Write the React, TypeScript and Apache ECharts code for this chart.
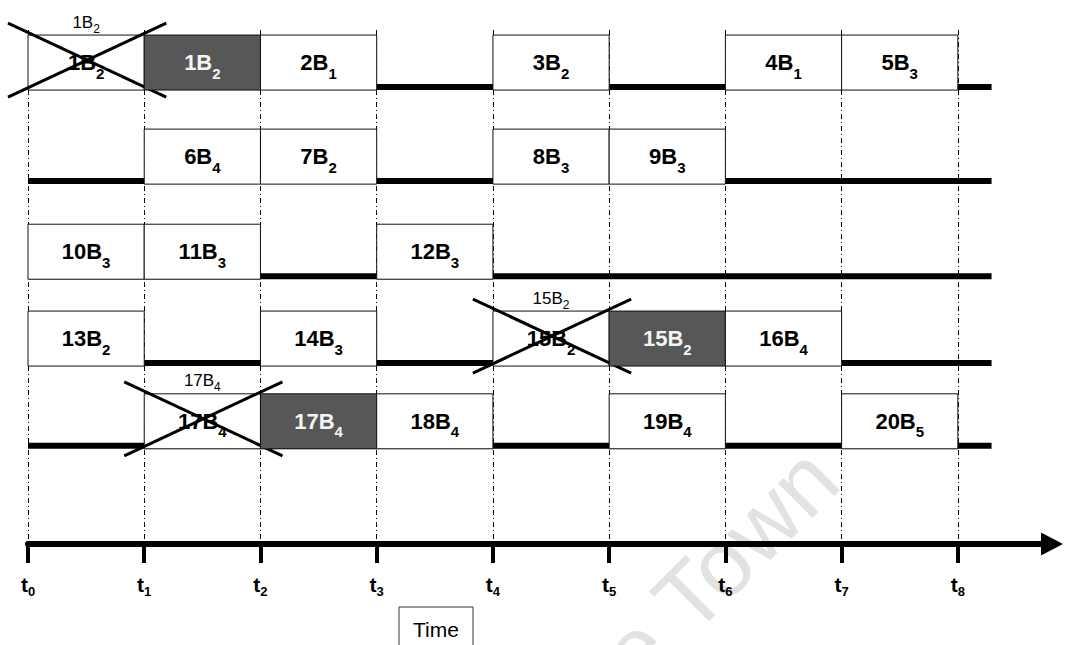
import React, { useEffect, useRef } from 'react';
import * as echarts from 'echarts';

// ---- data ----
const tickValues = [0, 1, 2, 3, 4, 5, 6, 7, 8];
const rowLevels = [1.11, 2.94, 4.79, 6.48, 8.09];
const blockRows = [0, 0, 0, 0, 0, 0, 1, 1, 1, 1, 2, 2, 2, 3, 3, 3, 3, 3, 4, 4, 4, 4, 4];
const blockSlots = [0, 1, 2, 4, 6, 7, 1, 2, 4, 5, 0, 1, 3, 0, 2, 4, 5, 6, 1, 2, 3, 5, 7];
const blockNums = [1, 1, 2, 3, 4, 5, 6, 7, 8, 9, 10, 11, 12, 13, 14, 15, 15, 16, 17, 17, 18, 19, 20];
const blockSubs = [2, 2, 1, 2, 1, 3, 4, 2, 3, 3, 3, 3, 3, 2, 3, 2, 2, 4, 4, 4, 4, 4, 5];
// 0 = sent, 1 = dropped (crossed out), 2 = re-sent (dark)
const blockStates = [1, 2, 0, 0, 0, 0, 0, 0, 0, 0, 0, 0, 0, 0, 0, 1, 2, 0, 1, 2, 0, 0, 0];
const axisTitle = 'Time';
const watermarkText = 'University of Cape Town';

const FONT = "'Liberation Sans', Arial, sans-serif";
const BASELINE_END = 8.29;

function richFor(color: string, main: number, sub: number, weight: string, pad: number) {
  return {
    m: { fontSize: main, fontWeight: weight, fontFamily: FONT, fill: color, verticalAlign: 'top' },
    s: { fontSize: sub, fontWeight: weight, fontFamily: FONT, fill: color, verticalAlign: 'top', padding: [pad, 0, 0, 0] },
  };
}

export default function App() {
  const ref = useRef<HTMLDivElement>(null);
  useEffect(() => {
    document.body.style.margin = '0';
    const chart = echarts.init(ref.current!, null, { renderer: 'svg' });

    const blockData = blockSlots.map((s, i) => [s, rowLevels[blockRows[i]], blockNums[i], blockSubs[i], blockStates[i]]);

    const MAIN = 22, SUB = 15, PAD = 14;
    const TOPM = 17, TOPS = 12, TOPP = 9;

    const option: any = {
      animation: false,
      grid: { left: 28, right: 13, top: 30, bottom: 101 },
      xAxis: {
        type: 'value',
        min: 0,
        max: 8.81,
        interval: 1,
        position: 'bottom',
        axisLine: {
          show: true,
          onZero: false,
          lineStyle: { color: '#000', width: 6 },
          symbol: ['none', 'triangle'],
          symbolSize: [23, 22],
        },
        axisTick: { show: true, customValues: tickValues, length: 19, lineStyle: { color: '#000', width: 4 } },
        axisLabel: {
          customValues: tickValues,
          margin: 30,
          formatter: (v: number) => `{t|t}{s|${v}}`,
          rich: {
            t: { fontSize: 21, fontWeight: 'bold', fontFamily: FONT, color: '#000', verticalAlign: 'top' },
            s: { fontSize: 13, fontWeight: 'bold', fontFamily: FONT, color: '#000', verticalAlign: 'top', padding: [11, 0, 0, 0] },
          },
        },
        splitLine: { show: false },
      },
      yAxis: { type: 'value', min: 0, max: 10, inverse: true, show: false },
      graphic: [
        {
          type: 'text',
          x: 854,
          y: 496,
          rotation: Math.PI / 4,
          z: -1,
          silent: true,
          style: { text: watermarkText, fontSize: 92, fontFamily: FONT, fill: '#e2e2e2', align: 'right', verticalAlign: 'bottom' },
        },
        {
          type: 'rect',
          shape: { x: 399, y: 607, width: 74, height: 44 },
          style: { fill: '#fff', stroke: '#333', lineWidth: 1 },
        },
        {
          type: 'text',
          x: 436,
          y: 629,
          style: { text: axisTitle, fontSize: 21, fontFamily: FONT, fill: '#000', align: 'center', verticalAlign: 'middle' },
        },
      ],
      series: [
        {
          type: 'custom',
          name: 'baselines',
          z: 2,
          clip: false,
          data: rowLevels.map((l) => [0, l]),
          renderItem: (params: any, api: any) => {
            const p0 = api.coord([api.value(0), api.value(1)]);
            const p1 = api.coord([BASELINE_END, api.value(1)]);
            return {
              type: 'line',
              shape: { x1: p0[0], y1: p0[1], x2: p1[0], y2: p1[1] },
              style: { stroke: '#000', lineWidth: 6 },
            };
          },
          markLine: {
            silent: true,
            symbol: ['none', 'none'],
            label: { show: false },
            lineStyle: { color: '#000', width: 1, type: [5, 3, 1, 3] },
            data: tickValues.map((v) => ({ xAxis: v })),
            z: 1,
          },
        },
        {
          type: 'custom',
          name: 'blocks',
          z: 3,
          clip: false,
          data: blockData,
          renderItem: (params: any, api: any) => {
            const slot = api.value(0);
            const lvl = api.value(1);
            const num = api.value(2);
            const sub = api.value(3);
            const st = api.value(4);
            const p0 = api.coord([slot, lvl]);
            const p1 = api.coord([slot + 1, lvl]);
            const x0 = p0[0];
            const x1 = p1[0];
            const c = p0[1];
            const top = c - 52;
            const bot = c + 3;
            const cx = (x0 + x1) / 2;
            const cy = (top + bot) / 2;
            const dark = st === 2;
            const children: any[] = [];
            children.push({
              type: 'rect',
              shape: { x: x0, y: top, width: x1 - x0, height: bot - top },
              style: { fill: dark ? '#575757' : '#fff', stroke: '#111', lineWidth: 1 },
            });
            children.push({
              type: 'text',
              x: cx,
              y: cy + (PAD + SUB - MAIN) / 2,
              style: {
                text: `{m|${num}B}{s|${sub}}`,
                align: 'center',
                verticalAlign: 'middle',
                rich: richFor(dark ? '#f4f4f4' : '#000', MAIN, SUB, 'bold', PAD),
              },
            });
            if (st === 1) {
              const lx = x0 - 20;
              const rx = x1 + 22;
              const ty = top - 12;
              const by = bot + 7;
              children.push({ type: 'line', shape: { x1: lx, y1: ty, x2: rx, y2: by }, style: { stroke: '#000', lineWidth: 3 } });
              children.push({ type: 'line', shape: { x1: lx, y1: by, x2: rx, y2: ty }, style: { stroke: '#000', lineWidth: 3 } });
              children.push({
                type: 'text',
                x: cx,
                y: top - 13 + (TOPP + TOPS - TOPM) / 2,
                style: {
                  text: `{m|${num}B}{s|${sub}}`,
                  align: 'center',
                  verticalAlign: 'middle',
                  rich: richFor('#000', TOPM, TOPS, 'normal', TOPP),
                },
              });
            }
            return { type: 'group', children };
          },
        },
      ],
    };
    chart.setOption(option);
    return () => chart.dispose();
  }, []);
  return <div ref={ref} style={{ position: 'absolute', left: 0, top: 0, width: 1065, height: 645 }} />;
}
